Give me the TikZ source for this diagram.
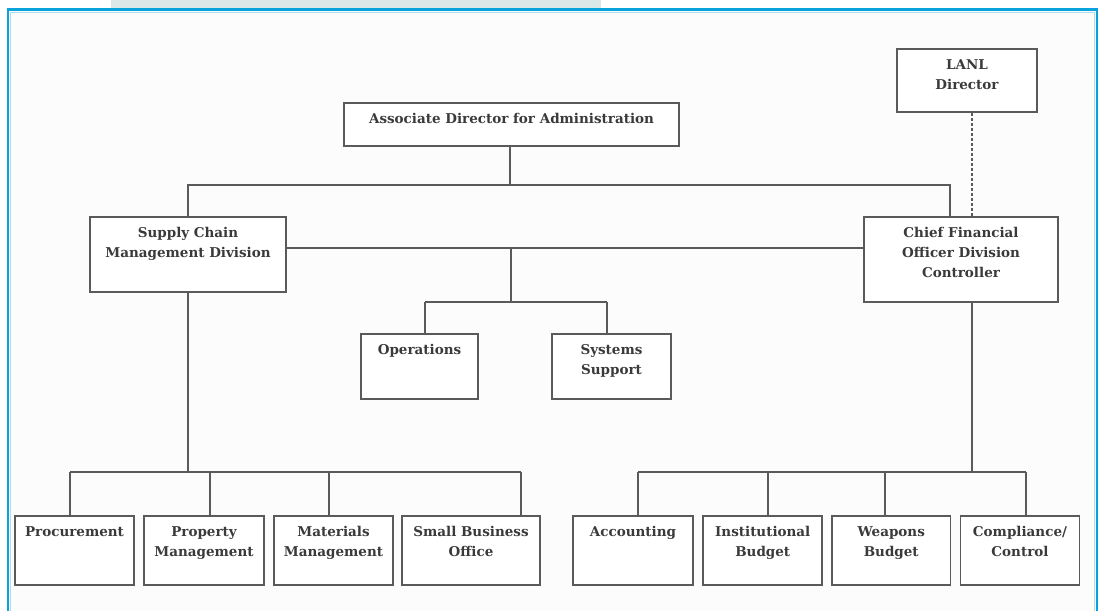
\documentclass[tikz,border=0pt]{standalone}
\usepackage{fontspec}
\setmainfont{DejaVu Serif}
\definecolor{frameblue}{HTML}{0AA2DC}
\definecolor{tabgray}{HTML}{DCE8E8}
\definecolor{boxgray}{HTML}{5A5A5A}
\definecolor{txtgray}{HTML}{3A3A3A}
\definecolor{bgwhite}{HTML}{FCFCFC}
\tikzset{
  box/.style={draw=boxgray, line width=1.8pt, fill=white, inner sep=0pt},
  lbl/.style={font=\bfseries\fontsize{13.5}{20}\selectfont, text=txtgray, align=center, inner sep=0pt, anchor=north},
  conn/.style={draw=boxgray, line width=1.8pt},
  dashconn/.style={draw=boxgray, line width=1.3pt, dash pattern=on 3pt off 2pt}
}
\begin{document}
\begin{tikzpicture}[x=1pt,y=-1pt]
\useasboundingbox (0,0) rectangle (1101,611);
\fill[white] (0,0) rectangle (1101,611);
\fill[bgwhite] (8,9.5) rectangle (1097,611);
\fill[tabgray] (111,0) rectangle (601,8);
\draw[frameblue, line width=2.5pt] (8,611) -- (8,9.5) -- (1097,9.5) -- (1097,611);
\draw[frameblue!35, line width=0.8pt] (10.5,611) -- (10.5,12) -- (1094.5,12) -- (1094.5,611);

% boxes
\node[box, minimum width=335pt, minimum height=43pt] (ada) at (511.5,124.5) {};
\node[box, minimum width=140pt, minimum height=63pt] (lanl) at (967,80.5) {};
\node[box, minimum width=196pt, minimum height=75pt] (scm) at (188,254.5) {};
\node[box, minimum width=194pt, minimum height=85pt] (cfo) at (961,259.5) {};
\node[box, minimum width=117pt, minimum height=65pt] (ops) at (419.5,366.5) {};
\node[box, minimum width=119pt, minimum height=65pt] (sys) at (611.5,366.5) {};
\node[box, minimum width=119.5pt, minimum height=68.5pt] (proc) at (74.5,550.5) {};
\node[box, minimum width=119.5pt, minimum height=68.5pt] (prop) at (204,550.5) {};
\node[box, minimum width=119.5pt, minimum height=68.5pt] (mat) at (333.5,550.5) {};
\node[box, minimum width=138pt, minimum height=68.5pt] (sbo) at (471,550.5) {};
\node[box, minimum width=119.5pt, minimum height=68.5pt] (acc) at (633,550.5) {};
\node[box, minimum width=119pt, minimum height=68.5pt] (inst) at (762.75,550.5) {};
\node[box, minimum width=118.5pt, minimum height=68.5pt] (weap) at (891.25,550.5) {};
\node[box, minimum width=119pt, minimum height=68.5pt] (comp) at (1020,550.5) {};

% labels (top of first line about 11px below box top)
\node[lbl] (t-ada) at ([yshift=-11pt]ada.north) {Associate Director for Administration};
\node[lbl] (t-lanl) at ([yshift=-11pt]lanl.north) {LANL\\Director};
\node[lbl] (t-scm) at ([yshift=-11pt]scm.north) {Supply Chain\\Management Division};
\node[lbl] (t-cfo) at ([yshift=-11pt]cfo.north) {Chief Financial\\Officer Division\\Controller};
\node[lbl] (t-ops) at ([yshift=-11pt]ops.north) {Operations};
\node[lbl] (t-sys) at ([yshift=-11pt]sys.north) {Systems\\Support};
\node[lbl] (t-proc) at ([yshift=-11pt]proc.north) {Procurement};
\node[lbl] (t-prop) at ([yshift=-11pt]prop.north) {Property\\Management};
\node[lbl] (t-mat) at ([yshift=-11pt]mat.north) {Materials\\Management};
\node[lbl] (t-sbo) at ([yshift=-11pt]sbo.north) {Small Business\\Office};
\node[lbl] (t-acc) at ([yshift=-11pt]acc.north) {Accounting};
\node[lbl] (t-inst) at ([yshift=-11pt]inst.north) {Institutional\\Budget};
\node[lbl] (t-weap) at ([yshift=-11pt]weap.north) {Weapons\\Budget};
\node[lbl] (t-comp) at ([yshift=-11pt]comp.north) {Compliance/\\Control};

% bus coordinates
\coordinate (topbus) at (510,185);
\coordinate (cfotop) at (950,185);
\coordinate (hbar) at (287,248);
\coordinate (midbus) at (511,302);
\coordinate (opsb) at (425,302);
\coordinate (sysb) at (607,302);
\coordinate (lb1) at (70,472);
\coordinate (lb2) at (210,472);
\coordinate (lb3) at (329,472);
\coordinate (lb4) at (521,472);
\coordinate (scmb) at (188,472);
\coordinate (rb1) at (638,472);
\coordinate (rb2) at (768,472);
\coordinate (rb3) at (885,472);
\coordinate (rb4) at (1026,472);
\coordinate (cfob) at (972,472);

% connectors
\draw[conn] (ada.south -| topbus) -- (topbus);
\draw[conn] (topbus) -| (scm.north);
\draw[conn] (topbus) -- (cfotop) -- (cfotop |- cfo.north);
\draw[dashconn] (lanl.south -| cfob) -- (cfo.north -| cfob);
\draw[conn] (hbar -| scm.east) -- (hbar -| cfo.west);
\draw[conn] (hbar -| midbus) -- (midbus);
\draw[conn] (opsb) -- (sysb);
\draw[conn] (opsb) -- (opsb |- ops.north);
\draw[conn] (sysb) -- (sysb |- sys.north);
\draw[conn] (scm.south) -- (scmb);
\draw[conn] (lb1) -- (lb4);
\draw[conn] (lb1) -- (lb1 |- proc.north);
\draw[conn] (lb2) -- (lb2 |- prop.north);
\draw[conn] (lb3) -- (lb3 |- mat.north);
\draw[conn] (lb4) -- (lb4 |- sbo.north);
\draw[conn] (cfo.south -| cfob) -- (cfob);
\draw[conn] (rb1) -- (rb4);
\draw[conn] (rb1) -- (rb1 |- acc.north);
\draw[conn] (rb2) -- (rb2 |- inst.north);
\draw[conn] (rb3) -- (rb3 |- weap.north);
\draw[conn] (rb4) -- (rb4 |- comp.north);
\end{tikzpicture}
\end{document}
